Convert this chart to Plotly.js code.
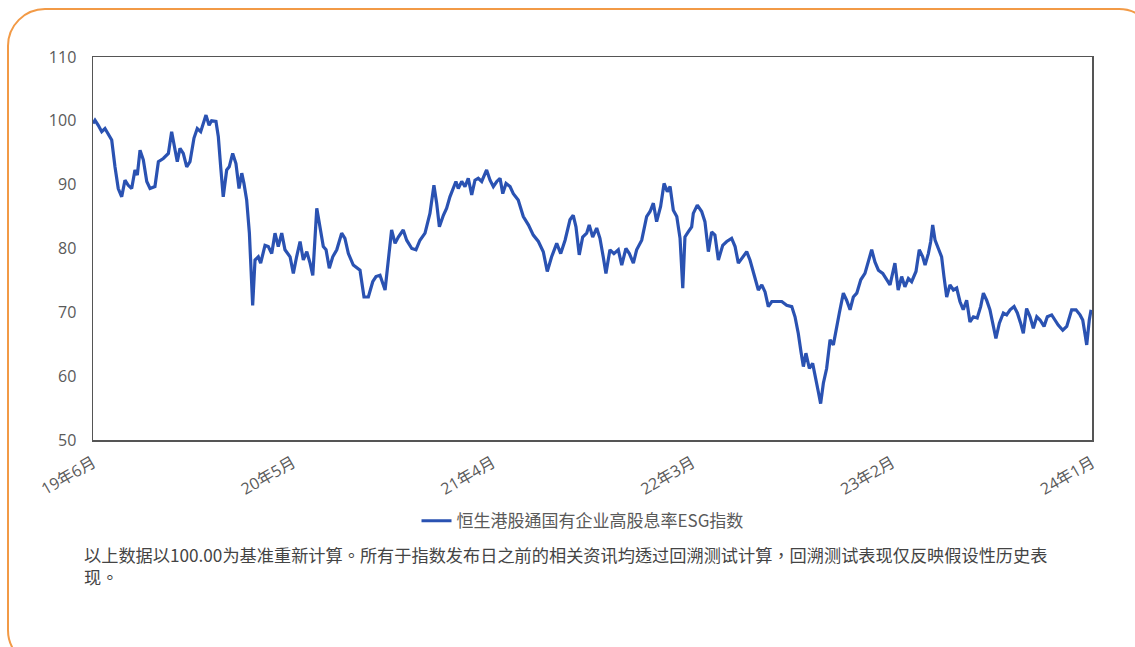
<!DOCTYPE html>
<html lang="zh-Hant-TW">
<head>
<meta charset="utf-8">
<script src="https://cdn.plot.ly/plotly-3.0.1.min.js"></script>
<style>
  html, body { margin: 0; padding: 0; background: #ffffff; }
  #wrap { position: relative; width: 1135px; height: 647px; overflow: hidden; }
  #frame { position: absolute; left: 7px; top: 8px; width: 1150px; height: 660px;
           border: 2px solid #F29A46; border-radius: 38px; box-sizing: border-box; }
  #chart { position: absolute; left: 0; top: 0; width: 1135px; height: 647px; }
</style>
</head>
<body>
<div id="wrap">
  <div id="frame"></div>
  <div id="chart"></div>
</div>
<script>
// Months elapsed since 19年6月, and index level (rebased to 100)
const monthsA = [
 0, 0.11, 0.29, 0.48, 0.66, 0.84, 1.03, 1.21, 1.39, 1.58,
 1.76, 1.94, 2.13, 2.31, 2.44, 2.59, 2.77, 2.96, 3.14, 3.41,
 3.60, 3.87, 4.15, 4.33, 4.51, 4.64, 4.79, 4.97, 5.16, 5.34,
 5.56, 5.74, 5.93, 6.22, 6.39, 6.53, 6.77, 6.90, 7.03, 7.17,
 7.36, 7.50, 7.69, 7.87, 8.04, 8.19, 8.31, 8.46, 8.61, 8.72,
 8.79, 8.92, 9.10, 9.23, 9.47, 9.65, 9.84, 10.02, 10.20, 10.39,
 10.57, 10.85];
const valuesA = [
 99.6, 100.1, 99.3, 98.3, 98.8, 97.8, 97.0, 92.8, 89.4, 88.1,
 90.7, 89.9, 89.4, 92.3, 91.5, 95.4, 93.9, 90.5, 89.4, 89.7,
 93.6, 94.1, 94.9, 98.3, 95.4, 93.6, 95.7, 94.9, 92.8, 93.6,
 97.3, 98.8, 98.3, 100.9, 99.3, 100.0, 99.9, 97.5, 92.8, 88.1,
 92.3, 92.8, 94.9, 93.3, 89.4, 91.8, 90.2, 87.6, 82.4, 76.1,
 71.1, 78.2, 78.7, 77.7, 80.5, 80.3, 79.2, 82.4, 80.3, 82.4,
 79.8, 78.7];

const monthsB = [
 11.03, 11.21, 11.40, 11.58, 11.77, 11.95, 12.10, 12.32, 12.50, 12.68,
 12.83, 13.01, 13.20, 13.42, 13.69, 13.87, 14.06, 14.33, 14.70, 14.92,
 15.16, 15.40, 15.58, 15.80, 16.08, 16.26, 16.44, 16.63, 16.81, 17.08,
 17.27, 17.55, 17.78, 18.00, 18.28, 18.55, 18.77, 18.92, 19.07, 19.29,
 19.47, 19.65, 19.84, 19.98, 20.11, 20.30, 20.48, 20.66, 20.85, 21.03,
 21.21, 21.40, 21.67, 21.86];
const valuesB = [
 76.1, 78.7, 81.1, 78.2, 79.5, 77.7, 75.8, 86.3, 83.4, 80.3,
 79.8, 76.9, 78.7, 79.8, 82.4, 81.6, 79.2, 77.4, 76.6, 72.4,
 72.4, 74.8, 75.6, 75.8, 73.5, 78.7, 82.9, 80.8, 81.8, 82.9,
 81.3, 80.0, 79.8, 81.3, 82.4, 85.5, 89.9, 87.1, 83.4, 85.2,
 86.3, 88.1, 89.7, 90.5, 89.4, 90.5, 89.7, 91.0, 88.4, 90.7,
 91.0, 90.5, 92.3, 90.7];

const monthsC = [
 22.04, 22.23, 22.41, 22.56, 22.74, 22.96, 23.14, 23.41, 23.69, 23.97,
 24.24, 24.52, 24.79, 25.01, 25.25, 25.53, 25.75, 25.99, 26.26, 26.44,
 26.59, 26.77, 26.96, 27.18, 27.32, 27.51, 27.73, 27.91, 28.09, 28.24,
 28.46, 28.68, 28.92, 29.11, 29.34, 29.53, 29.75, 29.93, 30.21, 30.48,
 30.67, 30.85, 31.03, 31.25, 31.44, 31.62, 31.77, 31.95, 32.14, 32.32,
 32.47, 32.59, 32.77, 32.96];
const valuesC = [
 89.7, 90.5, 91.0, 88.6, 90.2, 89.7, 88.6, 87.6, 85.0, 83.7,
 82.1, 81.1, 79.5, 76.4, 78.7, 80.8, 79.2, 81.3, 84.5, 85.2,
 83.4, 79.0, 81.8, 82.4, 83.7, 81.8, 83.2, 81.6, 78.7, 76.1,
 79.8, 79.2, 79.8, 77.4, 80.0, 79.2, 77.7, 79.8, 81.3, 85.0,
 85.8, 87.1, 84.2, 86.6, 90.2, 88.9, 89.7, 86.0, 85.0, 81.6,
 73.8, 81.8, 82.6, 83.4];

const monthsD = [
 33.05, 33.27, 33.51, 33.69, 33.88, 34.06, 34.24, 34.43, 34.67, 34.89,
 35.16, 35.35, 35.53, 35.77, 35.99, 36.17, 36.45, 36.63, 36.82, 37.00,
 37.18, 37.37, 37.64, 37.92, 38.19, 38.47, 38.65, 38.83, 38.98, 39.11,
 39.25, 39.44, 39.62, 39.75, 39.93, 40.06, 40.21, 40.39, 40.58, 40.76,
 40.94, 41.09, 41.31, 41.49, 41.68, 41.86, 42.05, 42.27, 42.50, 42.68,
 42.87, 43.05, 43.24, 43.48, 43.70, 43.88];
const valuesD = [
 85.5, 86.8, 85.8, 84.2, 79.5, 82.6, 82.1, 78.2, 80.5, 81.1,
 81.6, 80.3, 77.7, 78.7, 79.5, 78.2, 75.6, 73.5, 74.3, 73.2,
 70.9, 71.7, 71.7, 71.7, 71.1, 70.9, 69.3, 66.7, 63.8, 61.5,
 63.6, 61.2, 62.0, 59.9, 57.6, 55.7, 58.9, 61.2, 65.7, 64.9,
 67.8, 69.9, 73.0, 71.9, 70.4, 72.4, 73.0, 75.1, 76.1, 77.7,
 79.8, 77.9, 76.6, 76.1, 75.1, 74.3];

const monthsE = [
 44.15, 44.33, 44.52, 44.70, 44.89, 45.07, 45.31, 45.49, 45.68, 45.81,
 45.99, 46.12, 46.23, 46.36, 46.54, 46.72, 46.85, 47.00, 47.18, 47.37,
 47.55, 47.73, 47.91, 48.10, 48.28, 48.47, 48.68, 48.87, 49.02, 49.20,
 49.38, 49.57, 49.71, 49.90, 50.12, 50.30, 50.49, 50.71, 50.89, 51.07,
 51.22, 51.40, 51.59, 51.77, 51.96, 52.14, 52.36, 52.54, 52.78, 52.96,
 53.14, 53.39, 53.61, 53.88, 54.12, 54.34, 54.49, 54.61, 54.71, 54.85,
 54.95];
const valuesE = [
 77.7, 73.5, 75.6, 74.0, 75.3, 74.8, 76.4, 79.8, 78.7, 77.4,
 79.2, 81.1, 83.7, 81.3, 80.0, 78.7, 75.6, 72.4, 74.3, 73.5,
 73.8, 71.7, 70.4, 71.9, 68.5, 69.3, 69.1, 70.9, 73.0, 71.9,
 70.4, 67.8, 65.9, 68.3, 69.9, 69.6, 70.4, 70.9, 69.9, 68.3,
 66.7, 70.6, 69.3, 67.5, 69.3, 68.8, 67.8, 69.3, 69.6, 68.8,
 68.0, 67.2, 67.8, 70.4, 70.4, 69.6, 68.8, 66.7, 64.9, 68.8,
 70.4];

const tickMonths = [0, 11, 22, 33, 44, 55];
const tickLabels = ["19年6月", "20年5月", "21年4月", "22年3月", "23年2月", "24年1月"];
const seriesName = "恒生港股通国有企业高股息率ESG指数";
const noteLines = [
  "以上数据以100.00为基准重新计算。所有于指数发布日之前的相关资讯均透过回溯测试计算，回溯测试表现仅反映假设性历史表",
  "现。"
];

const xs = monthsA.concat(monthsB, monthsC, monthsD, monthsE);
const ys = valuesA.concat(valuesB, valuesC, valuesD, valuesE);

const fontFam = '"Open Sans", "Noto Sans CJK SC", "Noto Sans", sans-serif';
const cjkFam = '"Noto Sans CJK TC", "Noto Sans CJK SC", sans-serif';
const gray = '#5a5a5a';

const trace = {
  x: xs, y: ys, type: 'scatter', mode: 'lines', name: seriesName,
  line: { color: '#2A52B2', width: 3.2 }
};

const layout = {
  width: 1135, height: 647,
  margin: { l: 93, r: 43, t: 57, b: 207 },
  paper_bgcolor: 'rgba(0,0,0,0)', plot_bgcolor: '#ffffff',
  font: { family: fontFam, color: gray, size: 16 },
  showlegend: true,
  legend: {
    orientation: 'h', x: 0.49, xanchor: 'center', y: -0.212, yanchor: 'middle',
    font: { family: cjkFam, size: 17, color: gray }, bgcolor: 'rgba(0,0,0,0)'
  },
  xaxis: {
    range: [0, 55], tickmode: 'array', tickvals: tickMonths, ticktext: tickLabels,
    tickangle: -30, ticks: 'outside', ticklen: 6, tickcolor: 'rgba(0,0,0,0)',
    showline: true, mirror: true, linecolor: '#555555', linewidth: 1.5,
    showgrid: false, zeroline: false,
    tickfont: { family: fontFam, size: 16, color: gray }
  },
  yaxis: {
    range: [50, 110], dtick: 10, tick0: 50,
    ticks: 'outside', ticklen: 12, tickcolor: 'rgba(0,0,0,0)',
    showline: true, mirror: true, linecolor: '#555555', linewidth: 1.5,
    showgrid: false, zeroline: false,
    tickfont: { family: fontFam, size: 16, color: gray }
  },
  annotations: [
    { xref: 'paper', yref: 'paper', x: -0.011, y: -0.261, xanchor: 'left', yanchor: 'top',
      align: 'left', text: noteLines.join('<br>'), showarrow: false,
      font: { family: cjkFam, size: 17.2, color: '#444444' } }
  ]
};

Plotly.newPlot('chart', [trace], layout, { displayModeBar: false, staticPlot: true });
</script>
</body>
</html>
